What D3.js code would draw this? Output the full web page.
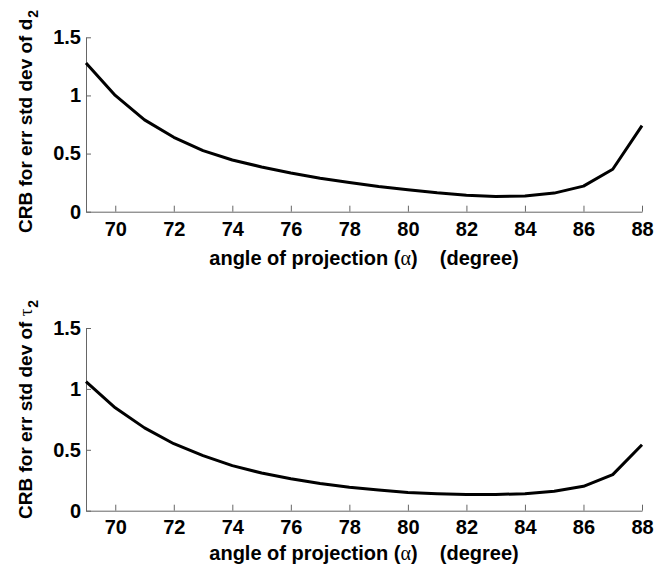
<!DOCTYPE html>
<html>
<head>
<meta charset="utf-8">
<script src="https://cdn.jsdelivr.net/npm/d3@7"></script>
<style>
	body { margin: 0; background: #fff; }
	svg { display: block; }
	.tick text, .lab { font-family: "Liberation Sans", Arial, sans-serif; font-weight: bold; font-size: 20px; fill: #000; }
	.ylab { font-size: 19px; }
	.sym { font-family: "Liberation Serif", serif; font-weight: normal; }
</style>
</head>
<body>
<svg id="chart" width="670" height="572"></svg>
<script>
// angle of projection (degree)
var angles = [69, 70, 71, 72, 73, 74, 75, 76, 77, 78, 79, 80, 81, 82, 83, 84, 85, 86, 87, 88]

// CRB for err std dev of d2
var crbD2 = [1.28, 1.00, 0.79, 0.64, 0.525, 0.445, 0.385, 0.333, 0.287, 0.252, 0.217, 0.188, 0.162, 0.142, 0.130, 0.135, 0.160, 0.220, 0.365, 0.741]

// CRB for err std dev of tau2
var crbTau2 = [1.06, 0.845, 0.68, 0.55, 0.452, 0.37, 0.309, 0.263, 0.224, 0.192, 0.169, 0.150, 0.140, 0.134, 0.133, 0.140, 0.160, 0.200, 0.296, 0.542]

var xTicks = [70, 72, 74, 76, 78, 80, 82, 84, 86, 88]
var yTicks = [0, 0.5, 1, 1.5]

var svg = d3.select("#chart")

var panels = [
	{values: crbD2, sym: "d", symClass: "", top: 37.3, bottom: 211.7, pad: 10.5, xlabY: 265, ylabY: 233},
	{values: crbTau2, sym: "\u03c4", symClass: "sym", top: 328, bottom: 510.7, pad: 9.6, xlabY: 560, ylabY: 519}
]

var x = d3.scaleLinear().domain([69, 88]).range([86, 642])

panels.forEach(function(p) {
	var y = d3.scaleLinear().domain([0, 1.5]).range([p.bottom, p.top])

	svg.append("g")
		.attr("transform", "translate(0," + p.bottom + ")")
		.call(d3.axisBottom(x).tickValues(xTicks).tickSizeInner(-6).tickSizeOuter(0).tickPadding(p.pad).tickFormat(d3.format("d")))
	svg.append("g")
		.attr("transform", "translate(86,0)")
		.call(d3.axisLeft(y).tickValues(yTicks).tickSizeInner(-5).tickSizeOuter(0).tickPadding(5).tickFormat(function(d) { return d; }))

	svg.selectAll(".domain, .tick line").attr("stroke", "#666")

	var line = d3.line()
		.x(function(d, i) { return x(angles[i]); })
		.y(function(d) { return y(d); })

	svg.append("path")
		.datum(p.values)
		.attr("fill", "none")
		.attr("stroke", "#000")
		.attr("stroke-width", 3)
		.attr("stroke-linejoin", "round")
		.attr("d", line)

	// x label
	var xl = svg.append("text")
		.attr("class", "lab")
		.attr("x", 364)
		.attr("y", p.xlabY)
		.attr("text-anchor", "middle")
		.style("white-space", "pre")
	xl.append("tspan").text("angle of projection (")
	xl.append("tspan").attr("class", "sym").text("\u03b1")
	xl.append("tspan").text(")    (degree)")

	// y label
	var yl = svg.append("text")
		.attr("class", "lab ylab")
		.attr("transform", "translate(32," + p.ylabY + ") rotate(-90)")
		.attr("text-anchor", "start")
	yl.append("tspan").text("CRB for err std dev of ")
	yl.append("tspan").attr("class", p.symClass).text(p.sym)
	yl.append("tspan").attr("dy", 6).attr("dx", 1).style("font-size", "14px").text("2")
})
</script>
</body>
</html>
